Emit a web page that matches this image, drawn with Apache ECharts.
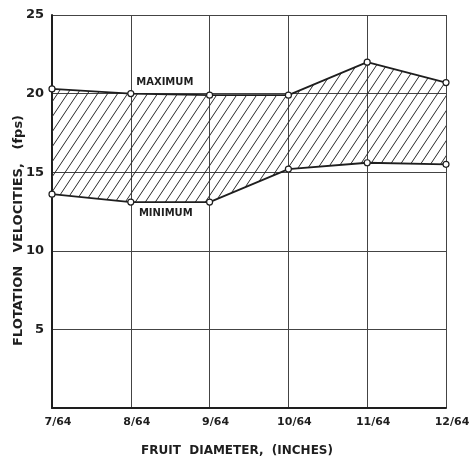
<!DOCTYPE html>
<html>
<head>
<meta charset="utf-8">
<script src="https://cdn.jsdelivr.net/npm/echarts@6/dist/echarts.min.js"></script>
<style>
  html, body { margin: 0; padding: 0; background: #fff; }
  #chart { width: 471px; height: 457px; }
</style>
</head>
<body>
<div id="chart"></div>
<script>
// fruit diameter categories (inches)
const diameters = ['7/64', '8/64', '9/64', '10/64', '11/64', '12/64'];
// flotation velocities, fps
const maxVel = [20.3, 20.0, 19.9, 19.9, 22.0, 20.7];
const minVel = [13.6, 13.1, 13.1, 15.2, 15.6, 15.5];
const yTicks = [0, 5, 10, 15, 20, 25];

const ink = '#1e1e1e';
const font = 'DejaVu Sans';

// hatch tile for the band between min and max
function hatch() {
  const w = 10, h = 15;
  const c = document.createElement('canvas');
  c.width = w; c.height = h;
  const g = c.getContext('2d');
  g.strokeStyle = '#2a2a2a';
  g.lineWidth = 1;
  for (const dx of [-w, 0, w]) {
    g.beginPath();
    g.moveTo(dx, h);
    g.lineTo(dx + w, 0);
    g.stroke();
  }
  return c;
}

const band = maxVel.map((v, i) => +(v - minVel[i]).toFixed(2));

const chart = echarts.init(document.getElementById('chart'));
chart.setOption({
  animation: false,
  grid: { left: 52, right: 25, top: 15, bottom: 49, outerBoundsMode: 'none', containLabel: false },
  xAxis: {
    type: 'category',
    data: diameters,
    boundaryGap: false,
    name: 'FRUIT  DIAMETER,  (INCHES)',
    nameLocation: 'middle',
    nameGap: 37,
    nameTextStyle: { fontFamily: font, fontSize: 12, fontWeight: 'bold', color: ink, padding: [0, 24, 0, 0] },
    axisLine: { lineStyle: { color: ink, width: 2 } },
    axisTick: { show: false },
    axisLabel: { fontFamily: font, fontSize: 11, fontWeight: 'bold', color: ink, margin: 9, padding: [0, 0, 0, 12] },
    splitLine: { show: true, lineStyle: { color: '#444', width: 1 } }
  },
  yAxis: {
    type: 'value',
    min: yTicks[0],
    max: yTicks[yTicks.length - 1],
    interval: 5,
    name: 'FLOTATION   VELOCITIES,   (fps)',
    nameLocation: 'middle',
    nameGap: 27,
    nameMoveOverlap: false,
    nameTextStyle: { fontFamily: font, fontSize: 13, fontWeight: 'bold', color: ink, padding: [0, 38, 0, 0] },
    axisLine: { show: true, lineStyle: { color: ink, width: 2 } },
    axisTick: { show: false },
    axisLabel: {
      fontFamily: font, fontSize: 13, fontWeight: 'bold', color: ink, margin: 8,
      formatter: v => (yTicks.includes(v) && v !== 0 ? String(v) : '')
    },
    splitLine: { show: true, lineStyle: { color: '#444', width: 1 } }
  },
  series: [
    {
      name: 'MINIMUM',
      type: 'line',
      stack: 'vel',
      data: minVel.map((v, i) => i === 1 ? {
        value: v,
        label: { show: true, formatter: 'MINIMUM', position: 'inside', offset: [35, 11],
          fontFamily: font, fontSize: 10, fontWeight: 'bold', color: ink }
      } : v),
      symbol: 'circle',
      symbolSize: 6,
      itemStyle: { color: '#fff', borderColor: ink, borderWidth: 1.2 },
      lineStyle: { color: ink, width: 1.8 },
      z: 3
    },
    {
      name: 'MAXIMUM',
      type: 'line',
      stack: 'vel',
      data: band.map((v, i) => i === 1 ? {
        value: v,
        label: { show: true, formatter: 'MAXIMUM', position: 'inside', offset: [34, -11],
          fontFamily: font, fontSize: 10, fontWeight: 'bold', color: ink }
      } : v),
      symbol: 'circle',
      symbolSize: 6,
      itemStyle: { color: '#fff', borderColor: ink, borderWidth: 1.2 },
      lineStyle: { color: ink, width: 1.8 },
      areaStyle: { color: { image: hatch(), repeat: 'repeat' }, opacity: 1 },
      z: 3
    }
  ]
});
</script>
</body>
</html>
